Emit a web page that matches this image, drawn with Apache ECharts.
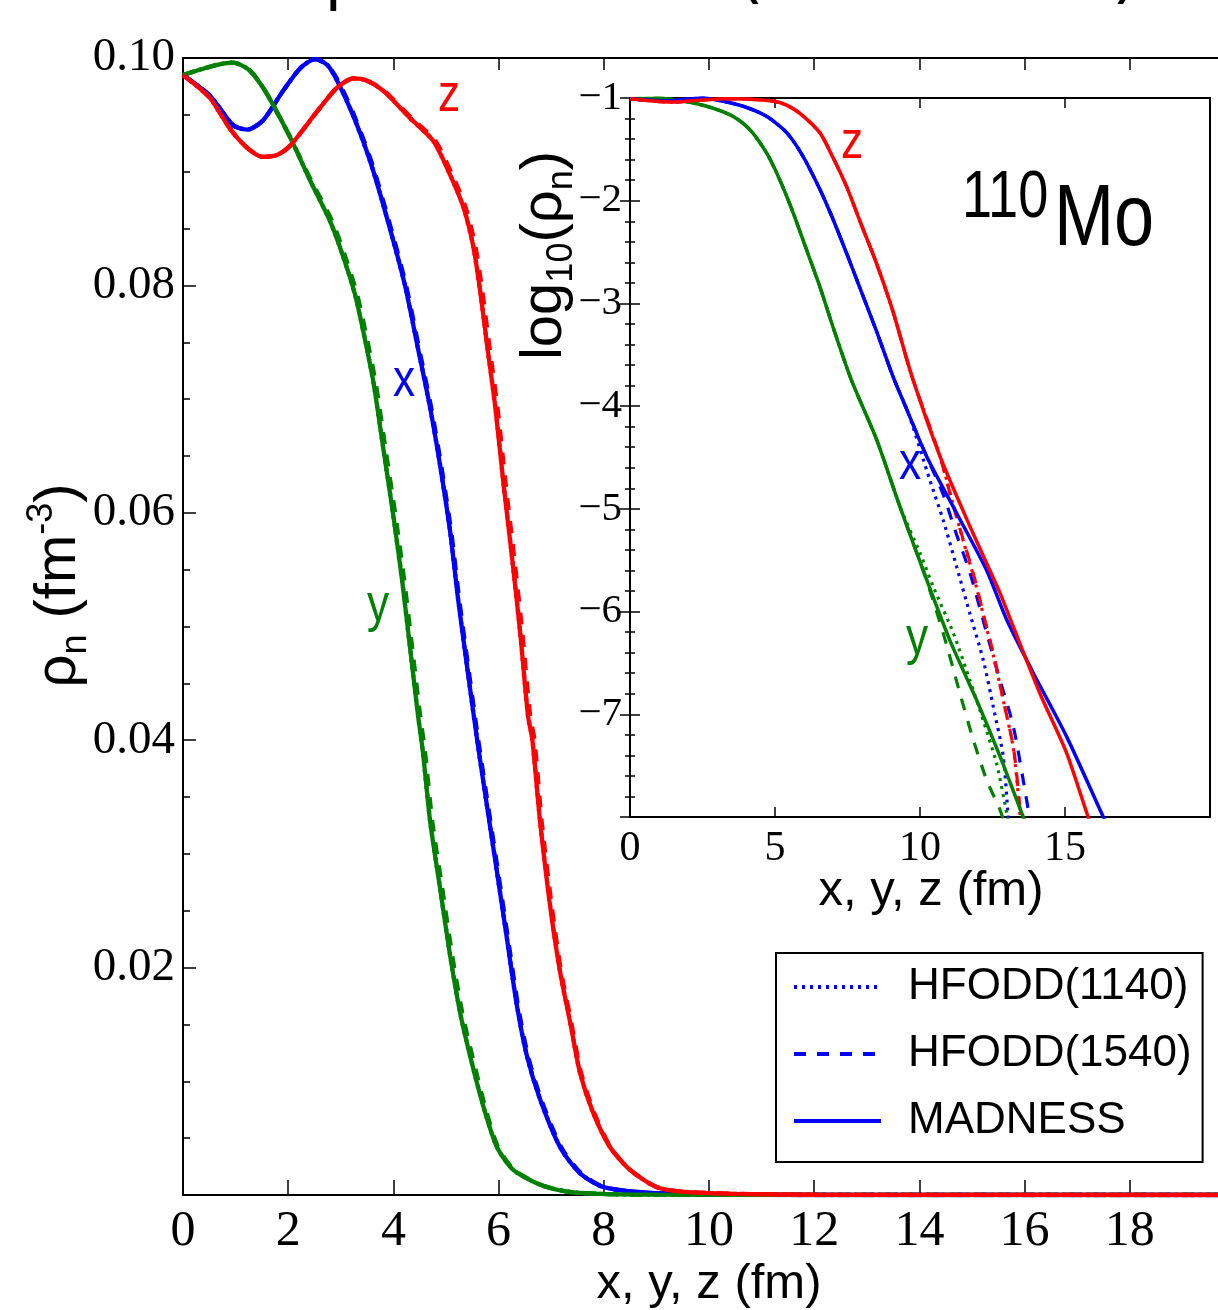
<!DOCTYPE html>
<html><head><meta charset="utf-8">
<script src="https://cdn.jsdelivr.net/npm/echarts@6/dist/echarts.min.js"></script>
<style>html,body{margin:0;padding:0;background:#fff;overflow:hidden}#c{width:1218px;height:1310px}</style>
</head><body><div id="c"></div>
<script>
// ---------- DATA: main panel, neutron density rho_n (fm^-3) vs distance (fm) ----------
const mainTicksX = [0, 2, 4, 6, 8, 10, 12, 14, 16, 18];
const mainTicksY = [0.02, 0.04, 0.06, 0.08, 0.10];

const mainX_madness = [[0,0.0985],[0.51,0.0967],[0.95,0.0941],[1.22,0.0937],[1.52,0.0945],[1.90,0.0971],[2.23,0.0991],[2.51,0.0999],[2.74,0.0994],[2.93,0.0980],[3.23,0.0950],[3.56,0.0909],[3.88,0.0859],[4.21,0.0802],[4.47,0.0744],[4.70,0.0692],[4.89,0.0641],[5.08,0.0583],[5.23,0.0524],[5.40,0.0465],[5.59,0.0401],[5.78,0.0342],[5.97,0.0284],[6.16,0.0225],[6.35,0.0166],[6.54,0.0122],[6.79,0.0084],[7.17,0.0042],[7.55,0.0019],[7.99,0.0007],[8.83,0.0002],[10,0.00005],[12,0],[20,0]];
const mainY_madness = [[0,0.0985],[0.27,0.0989],[0.65,0.0994],[0.95,0.0996],[1.27,0.0989],[1.52,0.0974],[1.71,0.0959],[2.04,0.0930],[2.42,0.0892],[2.80,0.0856],[3.04,0.0826],[3.27,0.0792],[3.43,0.0759],[3.62,0.0715],[3.81,0.0656],[4.00,0.0597],[4.17,0.0539],[4.32,0.0480],[4.47,0.0421],[4.56,0.0390],[4.70,0.0328],[4.89,0.0269],[5.08,0.0210],[5.27,0.0160],[5.46,0.0122],[5.71,0.0078],[5.97,0.0042],[6.28,0.0022],[6.79,0.0009],[7.30,0.0003],[7.93,0.0001],[9,0.00003],[12,0],[20,0]];
const mainZ_madness = [[0,0.0985],[0.51,0.0965],[0.89,0.0938],[1.22,0.0921],[1.52,0.0913],[1.80,0.0915],[2.04,0.0923],[2.55,0.0953],[2.93,0.0974],[3.24,0.0982],[3.50,0.0980],[3.81,0.0971],[4.32,0.0947],[4.76,0.0927],[5.08,0.0897],[5.33,0.0869],[5.52,0.0834],[5.65,0.0795],[5.78,0.0748],[5.94,0.0692],[6.09,0.0627],[6.26,0.0559],[6.41,0.0495],[6.56,0.0421],[6.64,0.0401],[6.79,0.0328],[6.98,0.0254],[7.17,0.0196],[7.36,0.0152],[7.55,0.0107],[7.80,0.0072],[8.12,0.0042],[8.50,0.0022],[9.00,0.0007],[9.46,0.0003],[10.5,0.0001],[12,0.00002],[20,0]];

const mainX_hfodd1540 = [[0,0.0985],[0.51,0.0967],[0.95,0.0941],[1.22,0.0937],[1.52,0.0945],[1.90,0.0971],[2.23,0.0991],[2.51,0.0999],[2.74,0.0994],[2.95,0.0980],[3.25,0.0950],[3.58,0.0909],[3.90,0.0859],[4.23,0.0802],[4.49,0.0744],[4.72,0.0692],[4.91,0.0641],[5.10,0.0583],[5.25,0.0524],[5.42,0.0465],[5.61,0.0401],[5.80,0.0342],[5.99,0.0284],[6.18,0.0225],[6.37,0.0166],[6.56,0.0122],[6.81,0.0084],[7.19,0.0042],[7.57,0.0019],[8.0,0.0007],[8.83,0.0002],[10,0.00005],[12,0],[20,0]];
const mainY_hfodd1540 = [[0,0.0985],[0.27,0.0989],[0.65,0.0994],[0.95,0.0996],[1.27,0.0989],[1.52,0.0974],[1.71,0.0959],[2.04,0.0930],[2.44,0.0892],[2.84,0.0856],[3.08,0.0826],[3.31,0.0792],[3.47,0.0759],[3.66,0.0715],[3.85,0.0656],[4.04,0.0597],[4.21,0.0539],[4.36,0.0480],[4.51,0.0421],[4.60,0.0390],[4.74,0.0328],[4.93,0.0269],[5.12,0.0210],[5.31,0.0160],[5.50,0.0122],[5.74,0.0078],[5.99,0.0042],[6.30,0.0022],[6.80,0.0009],[7.30,0.0003],[7.93,0.0001],[9,0.00003],[12,0],[20,0]];
const mainZ_hfodd1540 = [[0,0.0985],[0.51,0.0965],[0.89,0.0938],[1.22,0.0921],[1.52,0.0913],[1.80,0.0915],[2.04,0.0923],[2.55,0.0953],[2.93,0.0974],[3.24,0.0982],[3.50,0.0980],[3.83,0.0971],[4.35,0.0947],[4.80,0.0927],[5.12,0.0897],[5.37,0.0869],[5.56,0.0834],[5.69,0.0795],[5.82,0.0748],[5.98,0.0692],[6.13,0.0627],[6.30,0.0559],[6.45,0.0495],[6.60,0.0421],[6.68,0.0401],[6.82,0.0328],[7.01,0.0254],[7.19,0.0196],[7.38,0.0152],[7.57,0.0107],[7.82,0.0072],[8.13,0.0042],[8.50,0.0022],[9.00,0.0007],[9.46,0.0003],[10.5,0.0001],[12,0.00002],[20,0]];

// ---------- DATA: inset, log10(rho_n) vs distance (fm) ----------
const insetTicksX = [0, 5, 10, 15];
const insetTicksY = [-1, -2, -3, -4, -5, -6, -7];

const insetX_madness = [[0,-1.007],[1.2,-1.028],[2.0,-1.01],[2.5,-1.0],[3.0,-1.02],[3.9,-1.08],[4.72,-1.18],[5.41,-1.34],[5.97,-1.57],[6.55,-1.89],[7.0,-2.18],[7.48,-2.52],[7.93,-2.85],[8.5,-3.27],[9.08,-3.72],[9.6,-4.07],[10.23,-4.49],[11.26,-5.04],[12.3,-5.60],[12.99,-6.08],[13.91,-6.60],[15.06,-7.22],[16.32,-8.0],[16.5,-8.1]];
const insetY_madness = [[0,-1.007],[1.0,-1.002],[1.84,-1.03],[2.76,-1.09],[3.56,-1.18],[4.14,-1.31],[4.72,-1.54],[5.17,-1.80],[5.63,-2.12],[6.09,-2.48],[6.55,-2.84],[7.0,-3.23],[7.64,-3.75],[8.51,-4.33],[9.31,-4.98],[10.23,-5.69],[11.03,-6.28],[11.95,-6.86],[12.76,-7.41],[13.56,-8.0],[13.7,-8.1]];
const insetZ_madness = [[0,-1.007],[0.8,-1.03],[1.5,-1.04],[2.5,-1.02],[3.3,-1.008],[4.0,-1.01],[4.93,-1.03],[5.4,-1.07],[5.86,-1.15],[6.55,-1.34],[7.0,-1.58],[7.48,-1.87],[7.93,-2.20],[8.5,-2.61],[9.07,-3.08],[9.71,-3.70],[10.69,-4.49],[11.72,-5.17],[12.76,-5.82],[13.22,-6.15],[14.14,-6.80],[15.06,-7.38],[15.8,-8.0],[16.0,-8.12]];

const insetX_hfodd1540 = [[0,-1.007],[1.2,-1.028],[2.0,-1.01],[2.5,-1.0],[3.0,-1.02],[3.9,-1.08],[4.72,-1.18],[5.41,-1.34],[5.97,-1.57],[6.55,-1.89],[7.0,-2.18],[7.48,-2.52],[7.93,-2.85],[8.5,-3.27],[9.08,-3.72],[9.6,-4.07],[10.23,-4.49],[10.8,-4.86],[11.26,-5.25],[11.72,-5.62],[12.3,-6.21],[12.76,-6.67],[13.22,-7.12],[13.68,-7.84],[13.8,-8.05]];
const insetY_hfodd1540 = [[0,-1.007],[1.0,-1.002],[1.84,-1.03],[2.76,-1.09],[3.56,-1.18],[4.14,-1.31],[4.72,-1.54],[5.17,-1.80],[5.63,-2.12],[6.09,-2.48],[6.55,-2.84],[7.0,-3.23],[7.64,-3.75],[8.51,-4.33],[9.31,-4.98],[10.23,-5.70],[10.8,-6.21],[11.38,-6.80],[11.84,-7.25],[12.3,-7.64],[12.76,-7.93],[12.9,-8.05]];
const insetZ_hfodd1540 = [[0,-1.007],[0.8,-1.03],[1.5,-1.04],[2.5,-1.02],[3.3,-1.008],[4.0,-1.01],[4.93,-1.03],[5.4,-1.07],[5.86,-1.15],[6.55,-1.34],[7.0,-1.58],[7.48,-1.87],[7.93,-2.20],[8.5,-2.61],[9.07,-3.08],[9.71,-3.70],[10.69,-4.49],[11.09,-4.91],[11.49,-5.30],[11.84,-5.63],[12.18,-6.02],[12.53,-6.41],[12.87,-6.86],[13.22,-7.32],[13.39,-7.74],[13.45,-7.93],[13.5,-8.05]];

const insetX_hfodd1140 = [[0,-1.007],[1.2,-1.028],[2.0,-1.01],[2.5,-1.0],[3.0,-1.02],[3.9,-1.08],[4.72,-1.18],[5.41,-1.34],[5.97,-1.57],[6.55,-1.89],[7.0,-2.18],[7.48,-2.52],[7.93,-2.85],[8.5,-3.27],[9.08,-3.72],[9.6,-4.07],[10.34,-4.72],[10.8,-5.11],[11.26,-5.56],[11.72,-6.02],[12.18,-6.47],[12.53,-6.93],[12.87,-7.41],[13.04,-8.0],[13.06,-8.1]];
const insetY_hfodd1140 = [[0,-1.007],[1.0,-1.002],[1.84,-1.03],[2.76,-1.09],[3.56,-1.18],[4.14,-1.31],[4.72,-1.54],[5.17,-1.80],[5.63,-2.12],[6.09,-2.48],[6.55,-2.84],[7.0,-3.23],[7.64,-3.75],[8.51,-4.33],[9.31,-4.98],[10.0,-5.43],[10.46,-5.76],[11.15,-6.21],[11.72,-6.67],[12.18,-7.06],[12.64,-7.48],[12.99,-7.96],[13.05,-8.05]];
const insetZ_hfodd1140 = [[0,-1.007],[0.8,-1.03],[1.5,-1.04],[2.5,-1.02],[3.3,-1.008],[4.0,-1.01],[4.93,-1.03],[5.4,-1.07],[5.86,-1.15],[6.55,-1.34],[7.0,-1.58],[7.48,-1.87],[7.93,-2.20],[8.5,-2.61],[9.07,-3.08],[9.71,-3.70],[10.69,-4.49],[11.12,-4.93],[11.5,-5.32],[11.85,-5.66],[12.2,-6.05],[12.55,-6.45],[12.9,-6.90],[13.2,-7.30],[13.38,-7.75],[13.44,-7.95],[13.48,-8.05]];

const legendNames = ['HFODD(1140)', 'HFODD(1540)', 'MADNESS'];

// ---------- STYLE ----------
const SANS = '"Liberation Sans", Arial, sans-serif';
const SERIF = '"Liberation Serif", "Times New Roman", serif';
const C = { x: '#0000ff', y: '#008000', z: '#ff0000' };
const DOT = [3, 5];
const DASH = [12, 11];
const NARROW = 0.82;

function ln(name, data, color, type, width, xi, yi, z) {
  return {
    type: 'line', name: name, data: data, xAxisIndex: xi, yAxisIndex: yi,
    symbol: 'none', showSymbol: false, smooth: 0.25,
    lineStyle: { color: color, width: width, type: type, cap: 'butt' },
    itemStyle: { color: color }, z: z, silent: true, animation: false
  };
}

const series = [
  // blue series first so the legend icons take the blue style
  ln(legendNames[0], mainX_madness, C.x, DOT, 4.3, 0, 0, 2),
  ln(legendNames[1], mainX_hfodd1540, C.x, DASH, 4.3, 0, 0, 3),
  ln(legendNames[2], mainX_madness, C.x, 'solid', 4.3, 0, 0, 4),
  ln(legendNames[0], mainY_madness, C.y, DOT, 4.3, 0, 0, 2),
  ln(legendNames[1], mainY_hfodd1540, C.y, DASH, 4.3, 0, 0, 3),
  ln(legendNames[2], mainY_madness, C.y, 'solid', 4.3, 0, 0, 4),
  ln(legendNames[0], mainZ_madness, C.z, DOT, 4.3, 0, 0, 2),
  ln(legendNames[1], mainZ_hfodd1540, C.z, DASH, 4.3, 0, 0, 3),
  ln(legendNames[2], mainZ_madness, C.z, 'solid', 4.3, 0, 0, 4),

  ln(legendNames[0], insetX_hfodd1140, C.x, DOT, 3.2, 2, 1, 5),
  ln(legendNames[0], insetY_hfodd1140, C.y, DOT, 3.2, 2, 1, 5),
  ln(legendNames[0], insetZ_hfodd1140, C.z, DOT, 3.2, 2, 1, 5),
  ln(legendNames[1], insetX_hfodd1540, C.x, DASH, 3.2, 2, 1, 6),
  ln(legendNames[1], insetY_hfodd1540, C.y, DASH, 3.2, 2, 1, 6),
  ln(legendNames[1], insetZ_hfodd1540, C.z, DASH, 3.2, 2, 1, 6),
  ln(legendNames[2], insetY_madness, C.y, 'solid', 3.5, 2, 1, 7),
  ln(legendNames[2], insetX_madness, C.x, 'solid', 3.5, 2, 1, 7),
  ln(legendNames[2], insetZ_madness, C.z, 'solid', 3.5, 2, 1, 7)
];

const blackLine = { color: '#000', width: 2 };
const tickLine = { color: '#000', width: 1.5 };

function txt(s, x, y, size, color, align) {
  return { type: 'text', x: x, y: y, z: 20, silent: true, scaleX: NARROW, scaleY: 1,
    style: { text: s, font: size + 'px ' + SANS, fill: color, textAlign: align, textVerticalAlign: 'middle' } };
}

const chart = echarts.init(document.getElementById('c'), null, { renderer: 'canvas' });
chart.setOption({
  backgroundColor: '#fff',
  animation: false,
  grid: [
    { left: 183, top: 58, width: 1052, height: 1137, show: true, borderColor: '#000', borderWidth: 2,
      backgroundColor: 'transparent', containLabel: false, outerBoundsMode: 'none' },
    { left: 630, top: 98, width: 580, height: 719, show: true, borderColor: '#000', borderWidth: 2,
      backgroundColor: '#fff', containLabel: false, outerBoundsMode: 'none' }
  ],
  xAxis: [
    { gridIndex: 0, type: 'value', min: 0, max: 20, interval: 2, position: 'bottom',
      axisLine: { lineStyle: blackLine }, splitLine: { show: false },
      axisTick: { inside: true, length: 15, lineStyle: tickLine },
      axisLabel: { fontFamily: SERIF, fontSize: 50, color: '#000', margin: 12,
        formatter: v => mainTicksX.indexOf(v) >= 0 ? String(v) : '' },
      name: 'x, y, z (fm)', nameLocation: 'middle', nameGap: 65, nameMoveOverlap: false,
      nameTextStyle: { fontFamily: SANS, fontSize: 49, color: '#000' } },
    { gridIndex: 0, type: 'value', min: 0, max: 20, interval: 2, position: 'top',
      axisLine: { lineStyle: blackLine }, splitLine: { show: false },
      axisTick: { inside: true, length: 12, lineStyle: tickLine }, axisLabel: { show: false } },
    { gridIndex: 1, type: 'value', min: 0, max: 20, interval: 5, position: 'bottom',
      axisLine: { lineStyle: blackLine }, splitLine: { show: false },
      axisTick: { inside: true, length: 10, lineStyle: tickLine },
      axisLabel: { fontFamily: SERIF, fontSize: 42, color: '#000', margin: 11,
        formatter: v => insetTicksX.indexOf(v) >= 0 ? String(v) : '' },
      name: 'x, y, z (fm)', nameLocation: 'middle', nameGap: 50, nameMoveOverlap: false,
      nameTextStyle: { fontFamily: SANS, fontSize: 49, color: '#000', padding: [0, 0, 0, 22] } },
    { gridIndex: 1, type: 'value', min: 0, max: 20, interval: 5, position: 'top',
      axisLine: { lineStyle: blackLine }, splitLine: { show: false },
      axisTick: { inside: true, length: 10, lineStyle: tickLine }, axisLabel: { show: false } }
  ],
  yAxis: [
    { gridIndex: 0, type: 'value', min: 0, max: 0.1, interval: 0.02, position: 'left',
      axisLine: { lineStyle: blackLine }, splitLine: { show: false },
      axisTick: { inside: true, length: 13, lineStyle: tickLine },
      minorTick: { show: true, splitNumber: 4, length: 7, lineStyle: tickLine },
      axisLabel: { fontFamily: SERIF, fontSize: 47, color: '#000', margin: 8,
        formatter: v => { const r = Math.round(v * 100) / 100; return mainTicksY.indexOf(r) >= 0 ? r.toFixed(2) : ''; } },
      name: '{g|}{a|ρ}{s|n}{a| (fm}{p|-3}{a|)}', nameLocation: 'middle', nameRotate: 90, nameGap: 89,
      nameMoveOverlap: false,
      nameTextStyle: { fontFamily: SANS, color: '#000',
        rich: {
          g: { width: 82, fontSize: 10 },
          a: { fontFamily: SANS, fontSize: 58, color: '#000', lineHeight: 70 },
          s: { fontFamily: SANS, fontSize: 36, color: '#000', lineHeight: 36, verticalAlign: 'bottom' },
          p: { fontFamily: SANS, fontSize: 36, color: '#000', lineHeight: 36, verticalAlign: 'top' }
        } } },
    { gridIndex: 1, type: 'value', min: -8, max: -1, interval: 1, position: 'left',
      axisLine: { lineStyle: blackLine }, splitLine: { show: false },
      axisTick: { inside: true, length: 10, lineStyle: tickLine },
      minorTick: { show: true, splitNumber: 5, length: 5, lineStyle: tickLine },
      axisLabel: { fontFamily: SERIF, fontSize: 41, color: '#000', margin: 8,
        formatter: v => insetTicksY.indexOf(v) >= 0 ? '\u2212' + Math.abs(v) : '' },
      name: '{g|}{a|log}{s|10}{a|(ρ}{s|n}{a|)}', nameLocation: 'middle', nameRotate: 90, nameGap: 50,
      nameMoveOverlap: false,
      nameTextStyle: { fontFamily: SANS, color: '#000',
        rich: {
          g: { width: 404, fontSize: 10 },
          a: { fontFamily: SANS, fontSize: 58, color: '#000', lineHeight: 70 },
          s: { fontFamily: SANS, fontSize: 36, color: '#000', lineHeight: 36, verticalAlign: 'bottom' }
        } } },
    { gridIndex: 1, type: 'value', min: -8, max: -1, interval: 1, position: 'right',
      axisLine: { lineStyle: blackLine }, splitLine: { show: false },
      axisTick: { inside: true, length: 10, lineStyle: tickLine },
      minorTick: { show: true, splitNumber: 5, length: 5, lineStyle: tickLine },
      axisLabel: { show: false } }
  ],
  legend: {
    show: true, data: legendNames, orient: 'vertical', left: 776, top: 953,
    padding: [12, 11, 19, 16], itemGap: 23, itemWidth: 87, itemHeight: 14,
    borderColor: '#000', borderWidth: 2, backgroundColor: '#fff', selectedMode: false,
    itemStyle: { opacity: 0, borderWidth: 0 },
    lineStyle: { width: 4 },
    textStyle: { fontFamily: SANS, fontSize: 44, color: '#000', lineHeight: 44, padding: [0, 0, 0, 22] }
  },
  graphic: [
    // partial title at the top edge (only its lower part is visible)
    txt('p', 326, -28, 80, '#000', 'left'),
    txt('(', 748, -35, 80, '#000', 'center'),
    txt(')', 1128, -35, 80, '#000', 'center'),
    // nucleus label
    txt('110', 962, 199, 66, '#000', 'left'),
    txt('Mo', 1054, 221, 88, '#000', 'left'),
    // curve direction labels (main panel)
    txt('z', 449, 96, 54, C.z, 'center'),
    txt('x', 404, 381, 54, C.x, 'center'),
    txt('y', 378, 606, 54, C.y, 'center'),
    // curve direction labels (inset)
    txt('z', 852, 143, 54, C.z, 'center'),
    txt('x', 910, 464, 54, C.x, 'center'),
    txt('y', 917, 639, 54, C.y, 'center')
  ],
  series: series
});
</script></body></html>
